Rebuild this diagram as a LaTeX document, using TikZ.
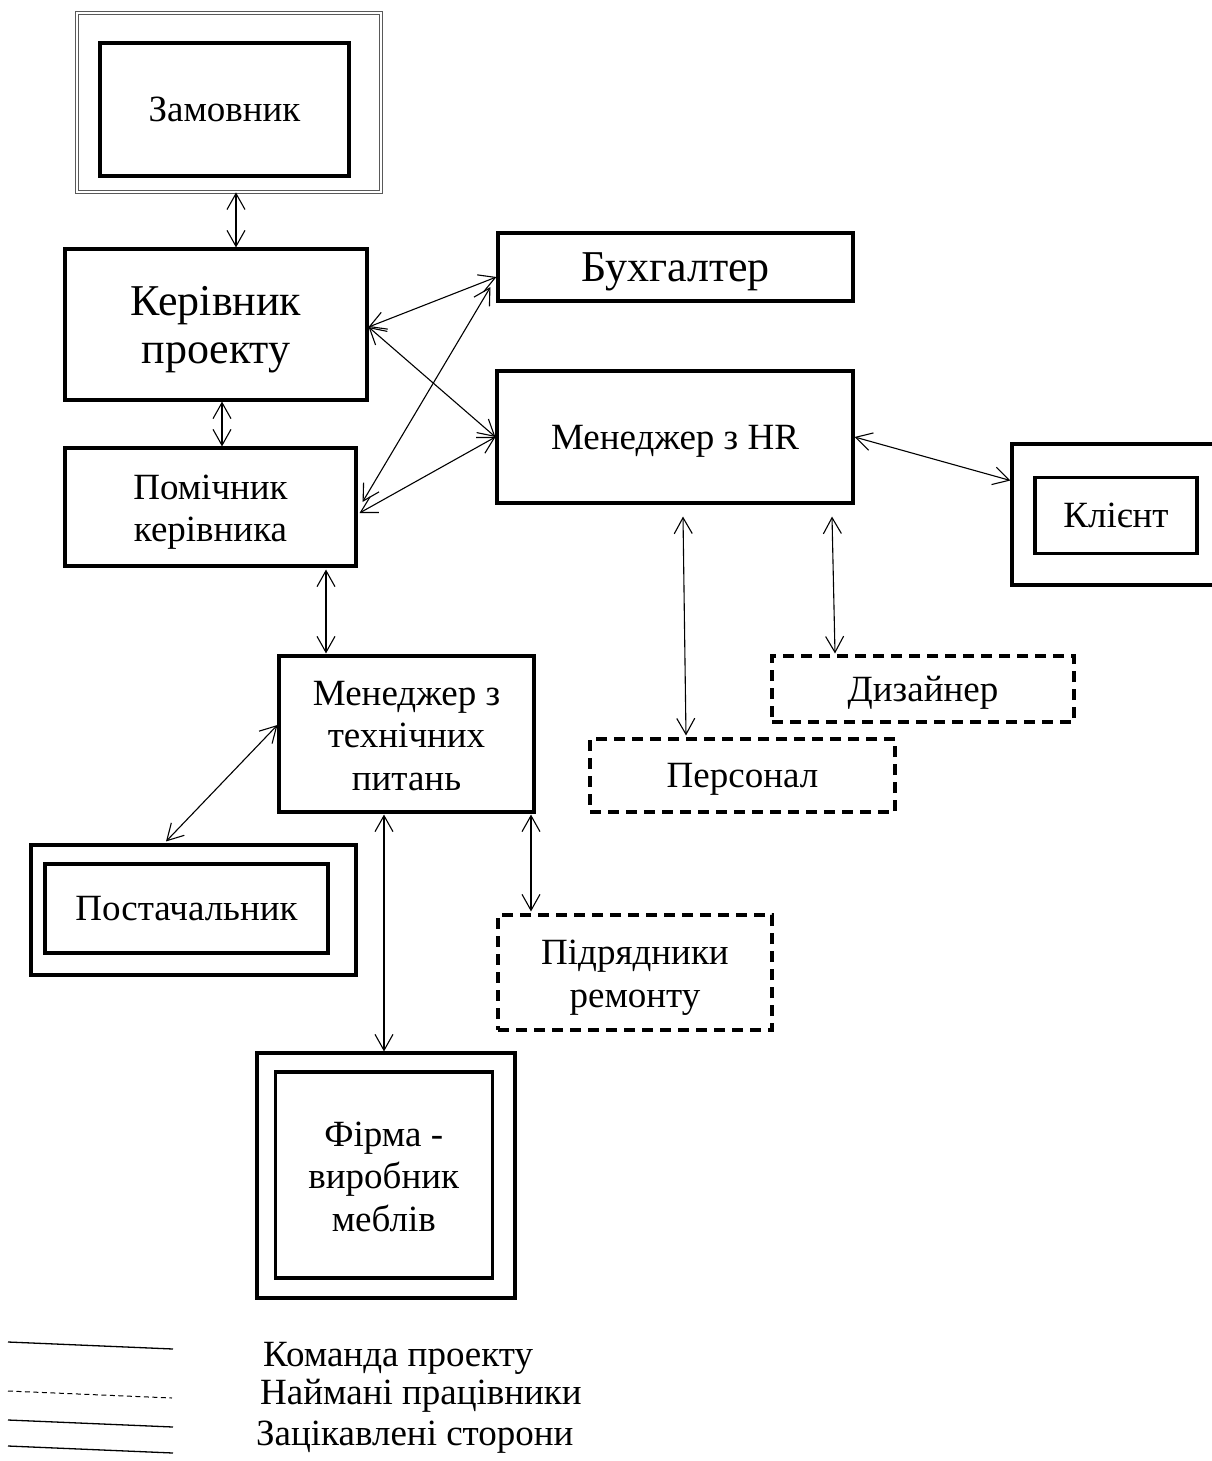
\documentclass[tikz,border=0pt]{standalone}
\usepackage{fontspec}
\setmainfont{Liberation Serif}
\usetikzlibrary{arrows.meta,calc}
\newcommand{\lnstrut}{\rule[-0.216em]{0pt}{1.107em}}
\newcommand{\mlt}[1]{\raisebox{-5pt}[\height][\depth]{\begin{tabular}{@{}c@{}}#1\end{tabular}}}
\tikzset{
  base/.style={draw=black, line width=3.1pt, rectangle, inner sep=0pt,
    font=\fontsize{37}{42.5}\selectfont},
  box/.style={base, align=center,
    execute at begin node=\lnstrut, execute at end node=\lnstrut},
  bigfont/.style={font=\fontsize{44}{48}\selectfont},
  dashy/.style={dash pattern=on 11pt off 7pt},
  frame/.style={draw=black, line width=3.1pt, rectangle, inner sep=0pt},
  grayframe/.style={draw=gray!70!black, double=white, double distance=1.6pt, line width=0.8pt, rectangle, inner sep=0pt},
  link/.style={line width=1.1pt, {Straight Barb[length=16pt,width=18pt,line width=1.1pt]}-{Straight Barb[length=16pt,width=18pt,line width=1.1pt]}},
  leg/.style={line width=1.3pt},
  legtext/.style={anchor=west, inner sep=0pt, font=\fontsize{37}{40}\selectfont}
}
\begin{document}
\begin{tikzpicture}[x=1pt,y=-1pt]
\useasboundingbox (0,0) rectangle (1211,1461);
% nodes
\node[grayframe, minimum width=304pt, minimum height=179pt] (zamo) at (229,102.5) {};
\node[box, minimum width=249pt, minimum height=133pt] (zam) at (224.5,109.5) {Замовник};
\node[base, bigfont, minimum width=302pt, minimum height=151pt] (ker) at (216,324.5) {\mlt{Керівник\\проекту}};
\node[box, bigfont, minimum width=355pt, minimum height=68pt] (buh) at (675.5,267) {Бухгалтер};
\node[box, minimum width=356pt, minimum height=132pt] (hr) at (675,437) {Менеджер з HR};
\node[frame, minimum width=208pt, minimum height=141pt] (klo) at (1116,514.5) {};
\node[box, minimum width=162pt, minimum height=76pt] (kl) at (1116,515.5) {Клієнт};
\node[base, minimum width=291pt, minimum height=118pt] (pom) at (210.5,507) {\mlt{Помічник\\керівника}};
\node[base, minimum width=255pt, minimum height=156pt] (tech) at (406.5,734) {\mlt{Менеджер з\\технічних\\питань}};
\node[frame, minimum width=325pt, minimum height=130pt] (posto) at (193.5,910) {};
\node[box, minimum width=283pt, minimum height=89pt] (post) at (186.5,908.5) {Постачальник};
\node[base, dashy, minimum width=274pt, minimum height=115pt] (pid) at (635,972.5) {\mlt{Підрядники\\ремонту}};
\node[frame, minimum width=258pt, minimum height=245pt] (firo) at (386,1175.5) {};
\node[base, minimum width=217pt, minimum height=206pt] (fir) at (383.75,1175) {\mlt{Фірма -\\виробник\\меблів}};
\node[box, dashy, minimum width=302pt, minimum height=66pt] (dyz) at (923,689) {Дизайнер};
\node[box, dashy, minimum width=305pt, minimum height=73pt] (pers) at (742.5,775.5) {Персонал};
% connectors
\draw[link] ($(zamo.south)+(7,0)$) -- ($(ker.north)+(20,0)$);
\draw[link] ($(ker.south)+(6,0)$) -- ($(pom.north)+(11.5,0)$);
\draw[link] ($(ker.east)+(0,2.5)$) -- ($(buh.west)+(0,10)$);
\draw[link] ($(ker.east)+(0,2.5)$) -- (hr.west);
\draw[link] ($(pom.east)+(5,-5)$) -- ($(buh.west)+(-6,20)$);
\draw[link] ($(pom.east)+(2,6)$) -- (hr.west);
\draw[link] (hr.east) -- ($(klo.west)+(0,-34)$);
\draw[link] ($(hr.south)+(8,12)$) -- ($(pers.north)+(-56.5,-2)$);
\draw[link] ($(hr.south)+(157,12)$) -- ($(dyz.north)+(-88,-1)$);
\draw[link] ($(pom.south)+(115.5,2)$) -- ($(tech.north)+(-80.5,-1)$);
\draw[link] ($(posto.north)+(-27.5,-2)$) -- ($(tech.west)+(0,-9)$);
\draw[link] ($(tech.south)+(-22.5,1)$) -- ($(firo.north)+(-2,0)$);
\draw[link] ($(tech.south)+(124.5,1)$) -- ($(pid.north)+(-104,-2)$);
% legend
\coordinate (l1a) at (8,1342); \coordinate (l1b) at (173,1349);
\coordinate (l2a) at (8,1391); \coordinate (l2b) at (172,1398);
\coordinate (l3a) at (8,1420); \coordinate (l3b) at (173,1427);
\coordinate (l4a) at (8,1446); \coordinate (l4b) at (173,1453);
\draw[leg] (l1a) -- (l1b);
\draw[leg, line width=1pt, dash pattern=on 5pt off 3.5pt] (l2a) -- (l2b);
\draw[leg] (l3a) -- (l3b);
\draw[leg] (l4a) -- (l4b);
\node[legtext] (t1) at (263,1358) {Команда проекту};
\node[legtext] (t2) at (260,1396) {Наймані працівники};
\node[legtext] (t3) at (256,1437) {Зацікавлені сторони};
\end{tikzpicture}
\end{document}
